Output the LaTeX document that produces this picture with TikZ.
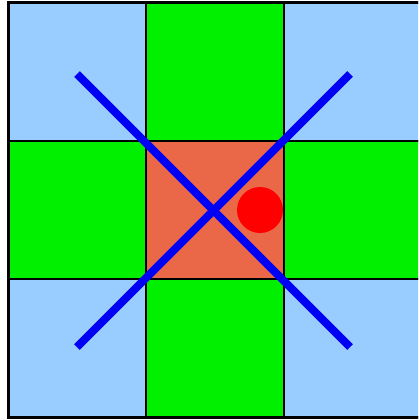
\documentclass[tikz,border=0pt]{standalone}
\definecolor{lblue}{RGB}{153,204,255}
\definecolor{lgreen}{RGB}{0,240,0}
\definecolor{corange}{RGB}{234,104,72}
\definecolor{cblue}{RGB}{0,0,245}
\definecolor{cred}{RGB}{255,0,0}
\tikzset{cell/.style={draw=black,line width=1.6pt},
  diag/.style={draw=cblue,line width=8pt}}
\begin{document}
\begin{tikzpicture}[x=1pt,y=-1pt]
\useasboundingbox (0,0) rectangle (418,420);
\fill[white] (0,0) rectangle (418,420);
\begin{scope}
\clip (0,0) rectangle (418,420);
\foreach \i in {0,1,2}{
  \foreach \j in {0,1,2}{
    \pgfmathtruncatemacro{\s}{\i+\j}
    \pgfmathtruncatemacro{\c}{(\i==1)&&(\j==1)}
    \pgfmathsetmacro{\w}{\i==2 ? 160 : 138}
    \ifnum\c=1
      \filldraw[cell,fill=corange] (8+138*\i,3+138*\j) rectangle ++(\w,138);
    \else
      \ifodd\s
        \filldraw[cell,fill=lgreen] (8+138*\i,3+138*\j) rectangle ++(\w,138);
      \else
        \filldraw[cell,fill=lblue] (8+138*\i,3+138*\j) rectangle ++(\w,138);
      \fi
    \fi
  }
}
\draw[black,line width=3pt] (440,3) -- (8,3) -- (8,417) -- (440,417);
\end{scope}
\fill[cred] (260,210) circle (23);
\coordinate (a1) at (77,74);
\coordinate (a2) at (350,347);
\coordinate (b1) at (350,74);
\coordinate (b2) at (77,347);
\draw[diag] (a1) -- (a2);
\draw[diag] (b1) -- (b2);
\end{tikzpicture}
\end{document}
